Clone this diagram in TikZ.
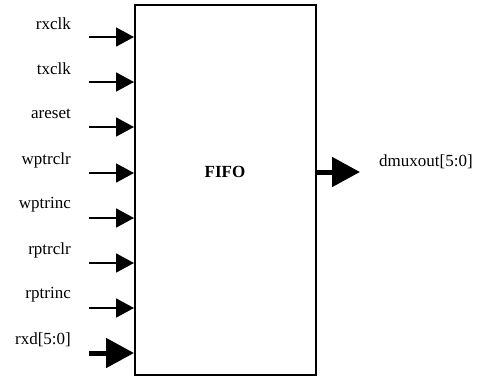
\documentclass[tikz,border=0pt]{standalone}
\usepackage{fontspec}
\setmainfont{Liberation Serif}
\usetikzlibrary{arrows.meta}
\begin{document}
\begin{tikzpicture}[x=1pt,y=-1pt,
  lbl/.style={font=\fontsize{17}{19}\selectfont, inner sep=0pt},
  inlbl/.style={lbl, anchor=east},
  sig/.style={line width=1.8pt, -{Triangle[length=18pt,width=19pt]}},
  bus/.style={line width=5pt, -{Triangle[length=28pt,width=29pt]}},
  blockbox/.style={draw, line width=1.8pt, fill=white}
]
\useasboundingbox (0,0) rectangle (477,376);
% FIFO block
\node[blockbox, minimum width=181pt, minimum height=370pt, inner sep=0pt,
      anchor=north west] (fifo) at (134,4) {};
\node[font=\fontsize{17}{19}\selectfont\bfseries] (title) at (225,172) {FIFO};
% input ports
\foreach \name/\txt/\y in {a/rxclk/37, b/txclk/82, c/areset/127, d/wptrclr/173,
                           e/wptrinc/218, f/rptrclr/263, g/rptrinc/308} {
  \coordinate (src\name) at (89,\y);
  \coordinate (dst\name) at (134,\y);
  \draw[sig] (src\name) -- (dst\name);
  \node[inlbl] (lab\name) at (71,\y-13) {\txt};
}
\coordinate (srch) at (89,353);
\coordinate (dsth) at (134,353);
\draw[bus] (srch) -- (dsth);
\node[inlbl] (labh) at (71,340) {rxd[5:0]};
% output port
\coordinate (outs) at (315,172);
\coordinate (oute) at (360,172);
\draw[bus] (outs) -- (oute);
\node[lbl, anchor=west] (labo) at (379,162) {dmuxout[5:0]};
\end{tikzpicture}
\end{document}
